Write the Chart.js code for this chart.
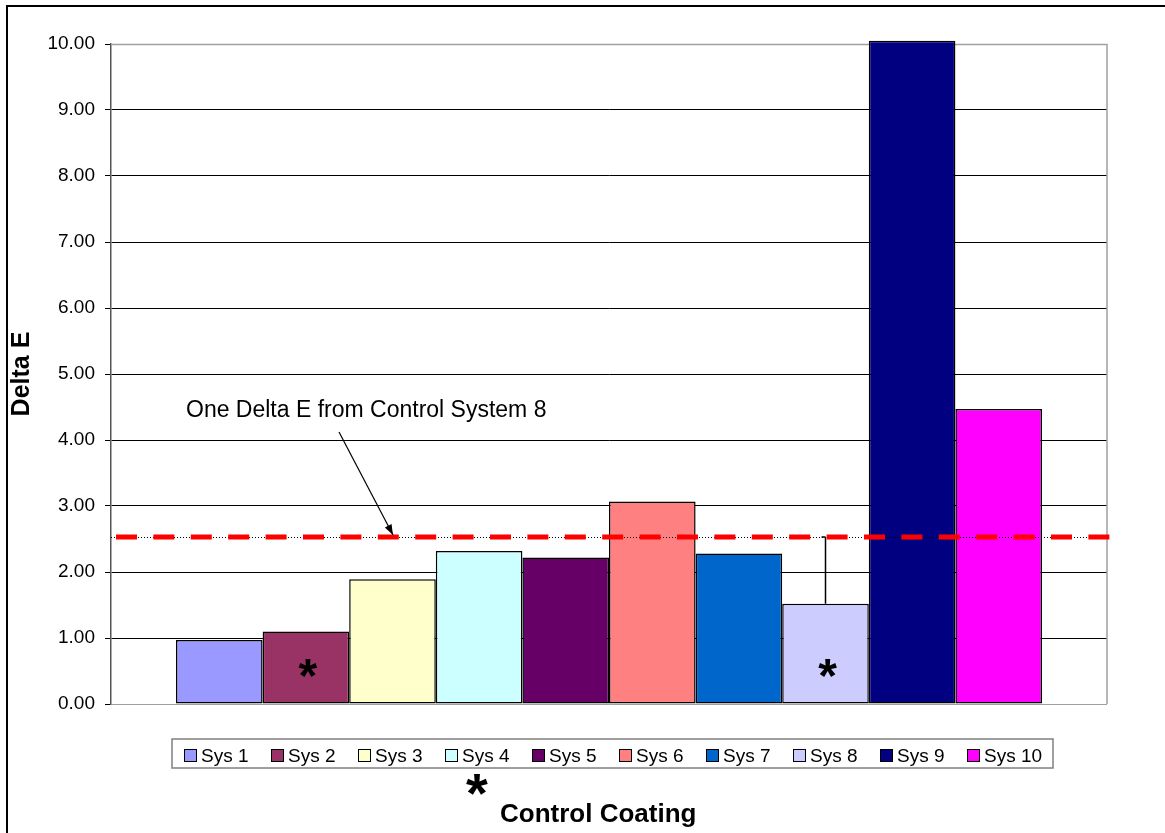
<!DOCTYPE html>
<html><head><meta charset="utf-8">
<script src="https://cdn.jsdelivr.net/npm/chart.js@4/dist/chart.umd.min.js"></script>
<style>html,body{margin:0;padding:0;background:#fff;overflow:hidden}</style>
</head><body>
<canvas id="c" width="1165" height="833" style="display:block;width:1165px;height:833px"></canvas>
<script>
const systems = ['Sys 1','Sys 2','Sys 3','Sys 4','Sys 5','Sys 6','Sys 7','Sys 8','Sys 9','Sys 10'];
const deltaE = [0.97, 1.10, 1.89, 2.32, 2.22, 3.07, 2.28, 1.52, 10.05, 4.47];
const errorPlus = [0, 0, 0, 0, 0, 0, 0, 1.01, 0, 0];
const controlCoating = [false, true, false, false, false, false, false, true, false, false];
const referenceDeltaE = [2.53];
const barColors = ['#9999FF','#993366','#FFFFCC','#CCFFFF','#660066','#FF8080','#0066CC','#CCCCFF','#000080','#FF00FF'];
const yTickValues = [0,1,2,3,4,5,6,7,8,9,10];
const annotationText = 'One Delta E from Control System 8';
const captionText = 'Control Coating';
const yTitle = 'Delta E';

const FF = '"Liberation Sans", Arial, sans-serif';

const overlay = {
  id: 'overlay',
  beforeDraw(chart) {
    const c = chart.ctx;
    c.save();
    c.fillStyle = '#fff';
    c.fillRect(0, 0, chart.width, chart.height);
    c.strokeStyle = '#000';
    c.lineWidth = 2;
    c.strokeRect(7, 6, chart.width + 40, chart.height + 40);
    c.restore();
  },
  beforeDatasetsDraw(chart) {
    const a = chart.chartArea, c = chart.ctx;
    c.save();
    c.strokeStyle = '#a0a0a0';
    c.lineWidth = 1.5;
    c.beginPath();
    c.moveTo(a.left, a.top + 0.5);
    c.lineTo(a.right, a.top + 0.5);
    c.lineTo(a.right, a.bottom);
    c.stroke();
    c.restore();
  },
  afterDatasetsDraw(chart) {
    const a = chart.chartArea, c = chart.ctx, y = chart.scales.y;
    c.save();
    // error bars
    chart.data.datasets.forEach((ds, i) => {
      const e = errorPlus[i];
      if (!e) return;
      const el = chart.getDatasetMeta(i).data[0];
      const y0 = y.getPixelForValue(deltaE[i]);
      const y1 = y.getPixelForValue(deltaE[i] + e);
      c.strokeStyle = '#000';
      c.lineWidth = 1.5;
      c.beginPath();
      c.moveTo(el.x, y0); c.lineTo(el.x, y1);
      c.moveTo(el.x - 4, y1); c.lineTo(el.x, y1);
      c.stroke();
    });
    // reference line
    const ry = y.getPixelForValue(referenceDeltaE[0]);
    c.strokeStyle = '#000';
    c.lineWidth = 1;
    c.setLineDash([1, 2]);
    c.beginPath(); c.moveTo(a.left, Math.round(ry) + 0.5); c.lineTo(a.right, Math.round(ry) + 0.5); c.stroke();
    c.strokeStyle = '#FF0000';
    c.lineWidth = 5;
    c.setLineDash([21, 16.4]);
    c.lineDashOffset = -5;
    c.beginPath(); c.moveTo(a.left, ry); c.lineTo(a.right + 3, ry); c.stroke();
    c.setLineDash([]);
    c.lineDashOffset = 0;
    // control coating asterisks
    const fs = 48;
    c.fillStyle = '#000';
    c.font = 'bold ' + fs + 'px ' + FF;
    c.textAlign = 'center';
    c.textBaseline = 'alphabetic';
    chart.data.datasets.forEach((ds, i) => {
      if (!controlCoating[i]) return;
      const el = chart.getDatasetMeta(i).data[0];
      const cy = y.getPixelForValue(0.59);
      c.fillText('*', el.x + 2, cy + 0.56 * fs);
    });
    // annotation
    c.font = '23px ' + FF;
    c.textAlign = 'left';
    c.fillText(annotationText, a.left + 75, 417);
    const tipX = a.left + 282, tipY = ry - 2;
    const sx = a.left + 228, sy = 432;
    c.strokeStyle = '#000';
    c.lineWidth = 1.2;
    c.beginPath(); c.moveTo(sx, sy); c.lineTo(tipX, tipY); c.stroke();
    const ang = Math.atan2(tipY - sy, tipX - sx);
    c.beginPath();
    c.moveTo(tipX, tipY);
    c.lineTo(tipX - 11 * Math.cos(ang - 0.35), tipY - 11 * Math.sin(ang - 0.35));
    c.lineTo(tipX - 11 * Math.cos(ang + 0.35), tipY - 11 * Math.sin(ang + 0.35));
    c.closePath();
    c.fill();
    c.restore();
  },
  afterDraw(chart) {
    const c = chart.ctx;
    c.save();
    // legend
    const bx = 172, by = 739, bw = 881, bh = 29;
    c.strokeStyle = '#808080';
    c.lineWidth = 1.5;
    c.strokeRect(bx, by, bw, bh);
    c.font = '19px ' + FF;
    c.textBaseline = 'alphabetic';
    c.textAlign = 'left';
    chart.data.datasets.forEach((ds, i) => {
      const x0 = 184 + i * 87;
      c.fillStyle = ds.backgroundColor;
      c.fillRect(x0, 749, 12, 12);
      c.strokeStyle = '#000';
      c.lineWidth = 1;
      c.strokeRect(x0 + 0.5, 749.5, 12, 12);
      c.fillStyle = '#000';
      c.fillText(ds.label, x0 + 17, 762);
    });
    // caption
    c.font = 'bold 56px ' + FF;
    c.fillText('*', 466, 812);
    c.font = 'bold 26px ' + FF;
    c.fillText(captionText, 500, 822);
    c.restore();
  }
};

const datasets = systems.map((s, i) => ({
  label: s,
  data: [deltaE[i]],
  backgroundColor: barColors[i],
  borderColor: '#000',
  borderWidth: 1.5,
  borderSkipped: false,
  categoryPercentage: 0.8695,
  barPercentage: 1.0,
  clip: false
}));

new Chart(document.getElementById('c'), {
  type: 'bar',
  data: { labels: [''], datasets },
  plugins: [overlay],
  options: {
    responsive: false,
    animation: false,
    devicePixelRatio: 1,
    layout: { padding: { top: 44, right: 58, bottom: 129, left: 0 } },
    plugins: { legend: { display: false }, tooltip: { enabled: false } },
    scales: {
      x: { display: false },
      y: {
        min: 0, max: 10,
        afterFit(s) { s.width = 111; },
        afterBuildTicks(s) { s.ticks = yTickValues.map(v => ({ value: v })); },
        ticks: {
          color: '#000',
          padding: 10,
          font: { family: FF, size: 19 },
          callback: v => Number(v).toFixed(2)
        },
        grid: {
          color: ctx => (ctx.tick && (ctx.tick.value === 10 || ctx.tick.value === 0)) ? '#a0a0a0' : '#000',
          tickColor: '#000',
          tickLength: 6,
          lineWidth: 1
        },
        border: { color: '#555', width: 1.5 },
        title: {
          display: true,
          text: yTitle,
          color: '#000',
          font: { family: FF, size: 25, weight: 'bold' },
          padding: { top: 7, bottom: 0 }
        }
      }
    }
  }
});
</script>
</body></html>
